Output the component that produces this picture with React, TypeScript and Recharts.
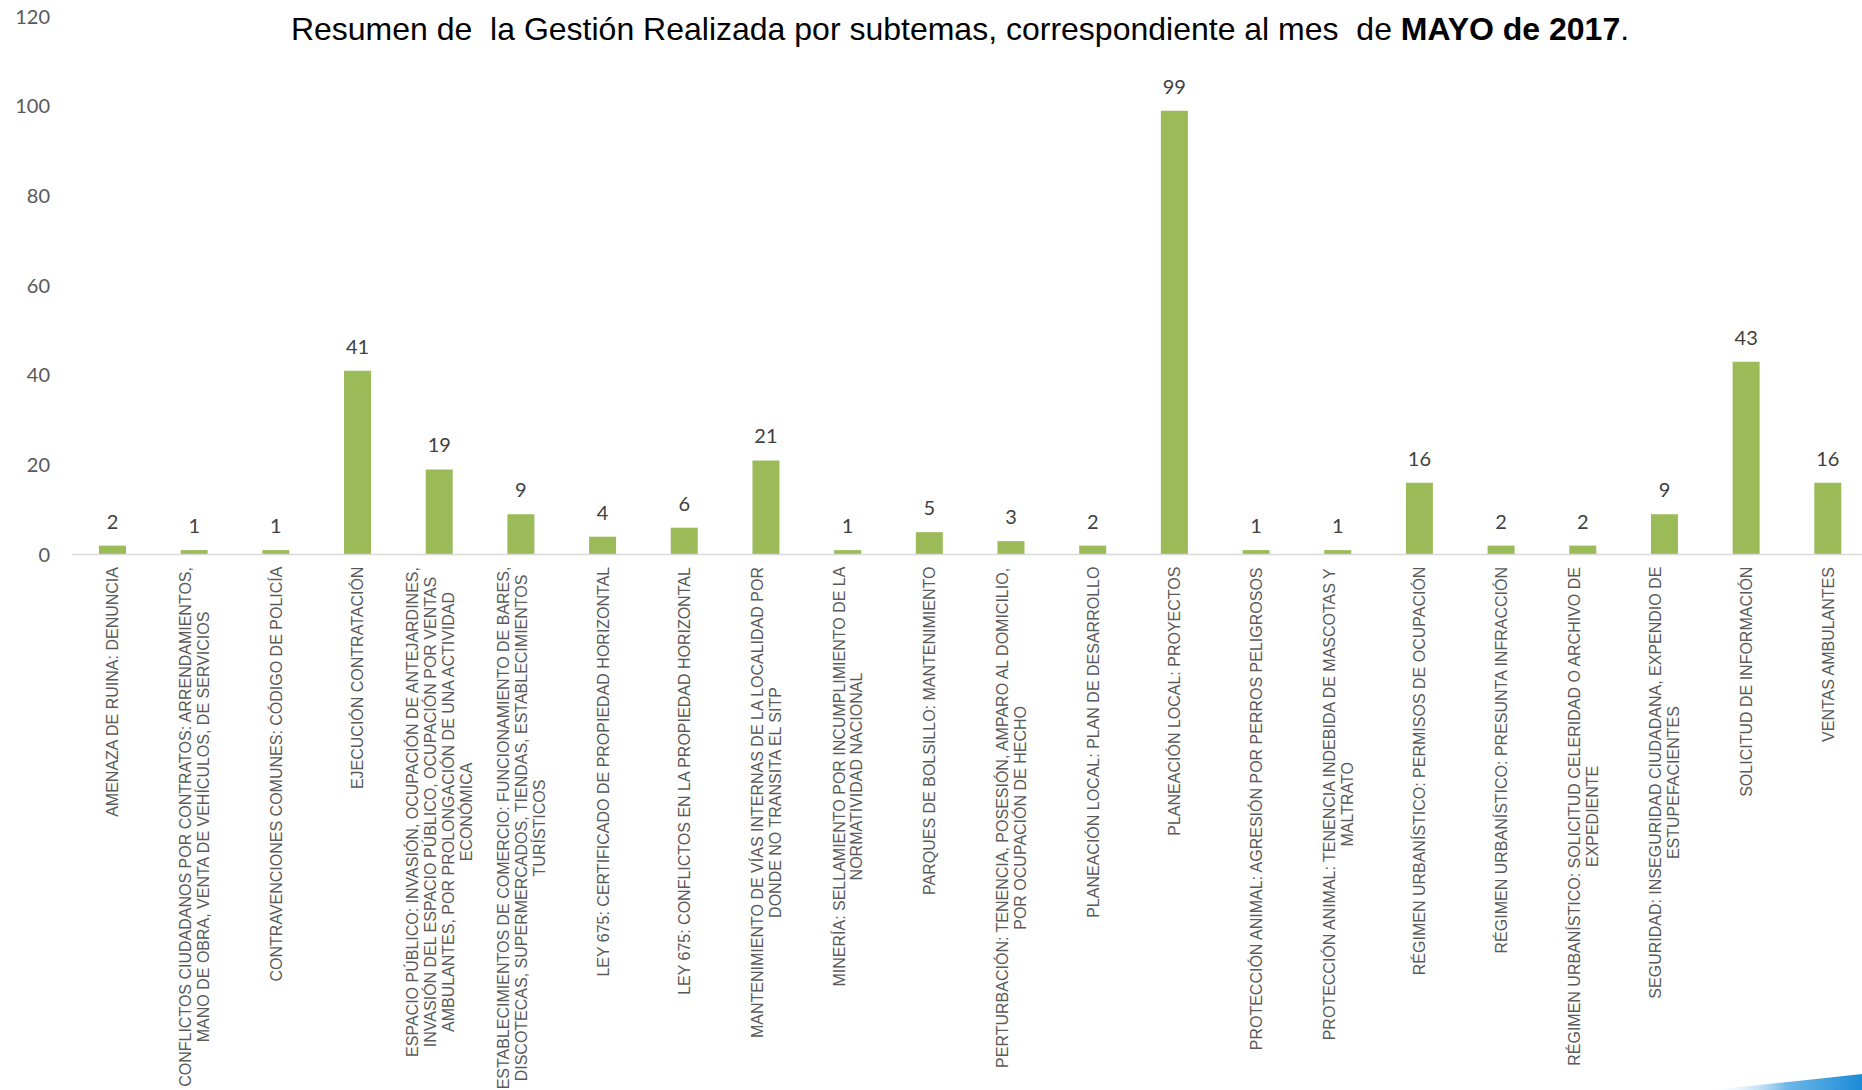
import { BarChart, Bar, XAxis, YAxis, LabelList } from 'recharts';

const categories = [
  'AMENAZA DE RUINA: DENUNCIA',
  'CONFLICTOS CIUDADANOS POR CONTRATOS: ARRENDAMIENTOS,\nMANO DE OBRA, VENTA DE VEHÍCULOS, DE SERVICIOS',
  'CONTRAVENCIONES COMUNES: CÓDIGO DE POLICÍA',
  'EJECUCIÓN CONTRATACIÓN',
  'ESPACIO PÚBLICO: INVASIÓN, OCUPACIÓN DE ANTEJARDINES,\nINVASIÓN DEL ESPACIO PÚBLICO, OCUPACIÓN POR VENTAS\nAMBULANTES, POR PROLONGACIÓN DE UNA ACTIVIDAD\nECONÓMICA',
  'ESTABLECIMIENTOS DE COMERCIO: FUNCIONAMIENTO DE BARES,\nDISCOTECAS, SUPERMERCADOS, TIENDAS, ESTABLECIMIENTOS\nTURÍSTICOS',
  'LEY 675: CERTIFICADO DE PROPIEDAD HORIZONTAL',
  'LEY 675: CONFLICTOS EN LA PROPIEDAD HORIZONTAL',
  'MANTENIMIENTO DE VÍAS INTERNAS DE LA LOCALIDAD POR\nDONDE NO TRANSITA EL SITP',
  'MINERÍA: SELLAMIENTO POR INCUMPLIMIENTO DE LA\nNORMATIVIDAD NACIONAL',
  'PARQUES DE BOLSILLO: MANTENIMIENTO',
  'PERTURBACIÓN: TENENCIA, POSESIÓN, AMPARO AL DOMICILIO,\nPOR OCUPACIÓN DE HECHO',
  'PLANEACIÓN LOCAL: PLAN DE DESARROLLO',
  'PLANEACIÓN LOCAL: PROYECTOS',
  'PROTECCIÓN ANIMAL: AGRESIÓN POR PERROS PELIGROSOS',
  'PROTECCIÓN ANIMAL: TENENCIA INDEBIDA DE MASCOTAS Y\nMALTRATO',
  'RÉGIMEN URBANÍSTICO: PERMISOS DE OCUPACIÓN',
  'RÉGIMEN URBANÍSTICO: PRESUNTA INFRACCIÓN',
  'RÉGIMEN URBANÍSTICO: SOLICITUD CELERIDAD O ARCHIVO DE\nEXPEDIENTE',
  'SEGURIDAD: INSEGURIDAD CIUDADANA, EXPENDIO DE\nESTUPEFACIENTES',
  'SOLICITUD DE INFORMACIÓN',
  'VENTAS AMBULANTES',
];

const counts = [2, 1, 1, 41, 19, 9, 4, 6, 21, 1, 5, 3, 2, 99, 1, 1, 16, 2, 2, 9, 43, 16];

const yTicks = [0, 20, 40, 60, 80, 100, 120];

const data = categories.map((name, i) => ({ name, value: counts[i] }));

const LABEL_FONT = '16px "Liberation Sans"';
const LINE_H = 17.8;

let ctx: CanvasRenderingContext2D | null = null;
function measure(s: string) {
  if (!ctx) ctx = document.createElement('canvas').getContext('2d');
  if (!ctx) return s.length * 9;
  ctx.font = LABEL_FONT;
  return ctx.measureText(s).width;
}

function CategoryTick(props: any) {
  const { x, y, payload } = props;
  const lines = String(payload.value).split('\n');
  const maxW = Math.max(...lines.map(measure));
  const n = lines.length;
  return (
    <g transform={`translate(${x},${y}) rotate(-90)`}>
      {lines.map((l, i) => (
        <text
          key={i}
          x={-maxW / 2}
          y={(i - (n - 1) / 2) * LINE_H}
          dy="0.35em"
          textAnchor="middle"
          fill="#595959"
          style={{ font: LABEL_FONT }}
        >
          {l}
        </text>
      ))}
    </g>
  );
}

export default function App() {
  return (
    <div style={{ position: 'absolute', left: 0, top: 0, width: 1862, height: 1090, overflow: 'hidden', background: '#fff' }}>
      <BarChart width={1880} height={1090} data={data} margin={{ top: 16.6, right: 11, left: 0, bottom: 35.4 }}>
        <XAxis
          dataKey="name"
          interval={0}
          height={500}
          tickLine={false}
          tickSize={0}
          tickMargin={12}
          axisLine={{ stroke: '#d9d9d9', strokeWidth: 1.5 }}
          tick={<CategoryTick />}
        />
        <YAxis
          domain={[0, 120]}
          ticks={yTicks}
          width={72}
          axisLine={false}
          tickLine={false}
          tickSize={0}
          tickMargin={22}
          tick={{ fill: '#595959', fontSize: 20, fontFamily: 'Lato' }}
        />
        <Bar dataKey="value" fill="#9bbb59" barSize={27} isAnimationActive={false}>
          <LabelList dataKey="value" position="top" offset={17} fill="#404040" fontSize={20} fontFamily="Lato" />
        </Bar>
      </BarChart>
      <div
        style={{
          position: 'absolute',
          left: 0,
          width: 1920,
          top: 11,
          textAlign: 'center',
          fontFamily: '"Liberation Sans", Arial, sans-serif',
          fontSize: 32,
          color: '#000',
          whiteSpace: 'pre',
        }}
      >
        {'Resumen de  la Gestión Realizada por subtemas, correspondiente al mes  de '}
        <b>MAYO de 2017</b>.
      </div>
      <svg style={{ position: 'absolute', left: 1690, top: 1066 }} width={172} height={24}>
        <defs>
          <linearGradient id="swoosh" x1="0" y1="0" x2="1" y2="0">
            <stop offset="0" stopColor="#ffffff" stopOpacity={0} />
            <stop offset="0.5" stopColor="#6fb7e8" />
            <stop offset="1" stopColor="#1b8bd6" />
          </linearGradient>
        </defs>
        <path d="M 20 24 Q 100 16 172 8 L 172 24 Z" fill="url(#swoosh)" />
      </svg>
    </div>
  );
}
